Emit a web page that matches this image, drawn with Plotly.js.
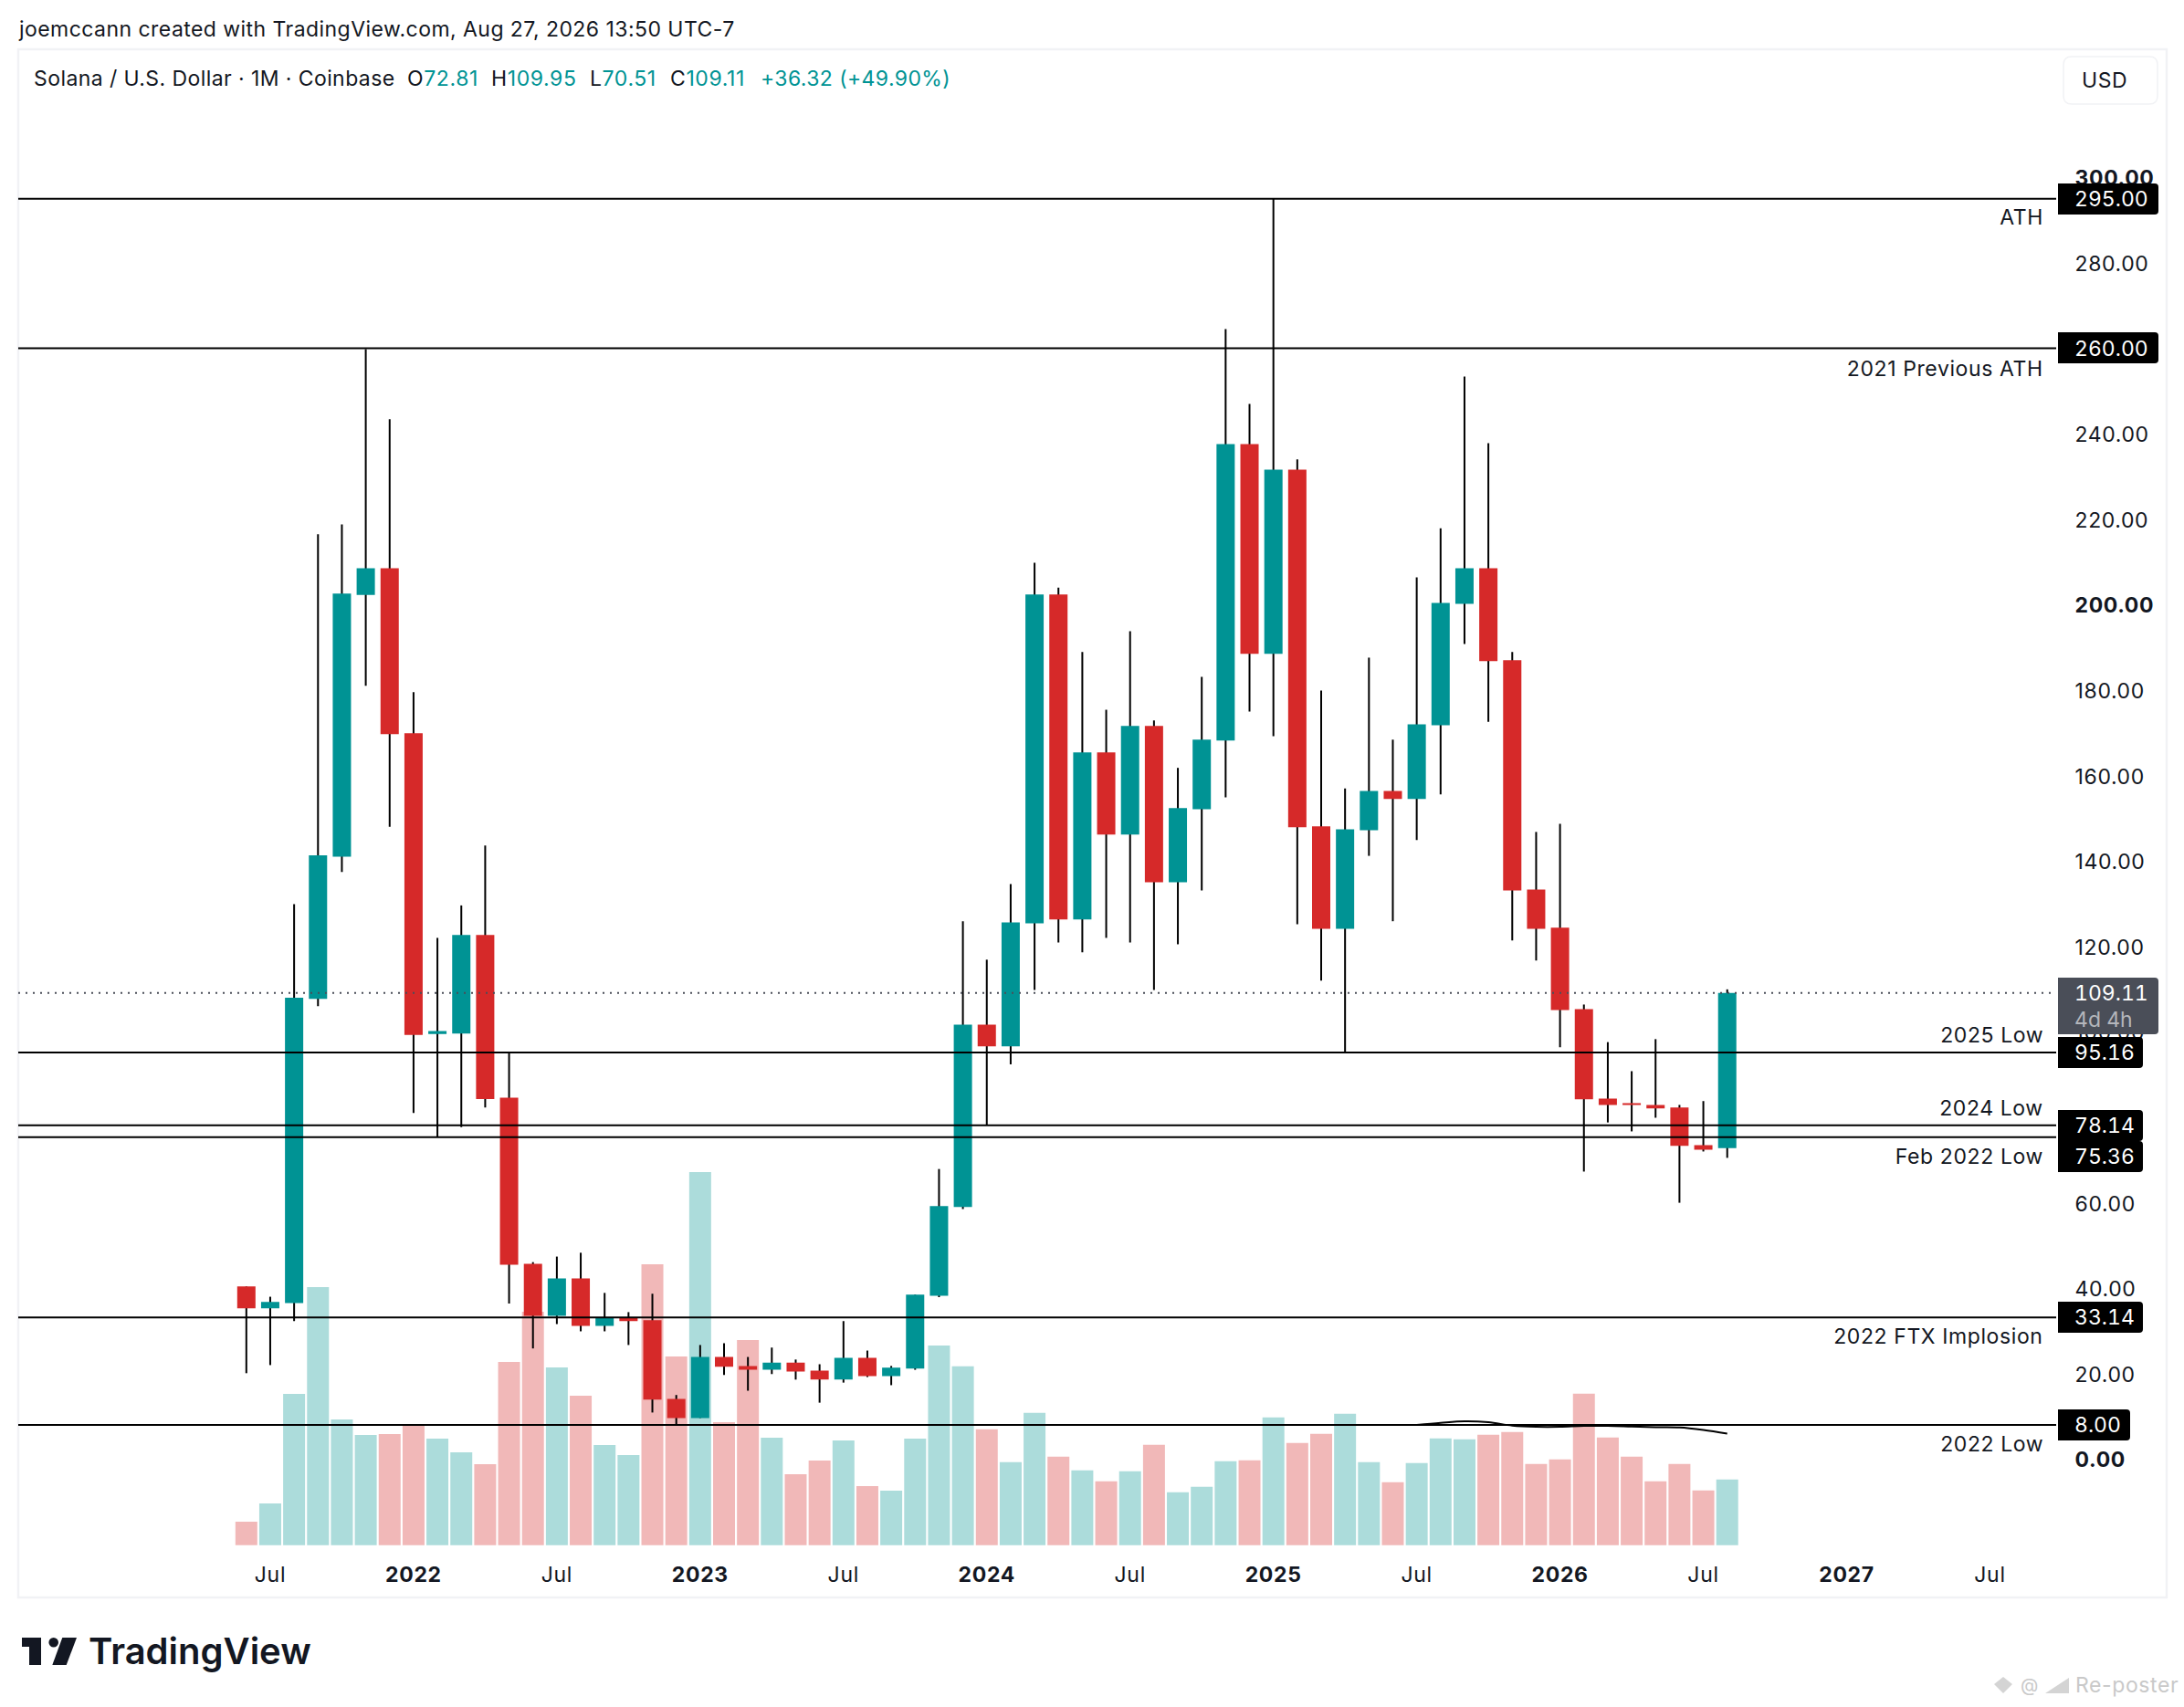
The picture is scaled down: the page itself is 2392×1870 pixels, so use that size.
<!DOCTYPE html>
<html>
<head>
<meta charset="utf-8">
<script src="https://cdn.plot.ly/plotly-3.0.1.min.js"></script>
<style>
   html, body { margin: 0; padding: 0; background: #ffffff; }
   #canvas text { letter-spacing: 0.6px; }
   #canvas .ytick text { font-variant-numeric: tabular-nums; font-feature-settings: "tnum"; letter-spacing: 0.3px; }
   #canvas .xtick text { letter-spacing: 0.7px; }
</style>
</head>
<body>
<div id="canvas" style="width:2392px;height:1870px;"></div>
<script>
const months = [
   "2021-06","2021-07","2021-08","2021-09","2021-10","2021-11","2021-12",
   "2022-01","2022-02","2022-03","2022-04","2022-05","2022-06","2022-07","2022-08","2022-09","2022-10","2022-11","2022-12",
   "2023-01","2023-02","2023-03","2023-04","2023-05","2023-06","2023-07","2023-08","2023-09","2023-10","2023-11","2023-12",
   "2024-01","2024-02","2024-03","2024-04","2024-05","2024-06","2024-07","2024-08","2024-09","2024-10","2024-11","2024-12",
   "2025-01","2025-02","2025-03","2025-04","2025-05","2025-06","2025-07","2025-08","2025-09","2025-10","2025-11","2025-12",
   "2026-01","2026-02","2026-03","2026-04","2026-05","2026-06","2026-07","2026-08"
];
const opens = [
   40.4,35.3,36.5,107.7,141,202.3,208.5,
   169.9,99.5,99.6,122.7,84.6,45.7,33.5,42.3,31.2,33.1,32.5,14.1,
   9.6,23.9,21.8,20.9,22.6,20.7,18.6,23.7,19.4,21.2,38.2,59,
   101.7,96.6,125.4,202.4,126.3,165.4,146.2,171.6,135,152.1,168.2,237.6,
   188.5,231.6,148.1,124.1,147.2,156.4,154.5,171.8,200.2,208.5,187,133.3,
   124.4,105.3,84.4,83.3,82.9,82.3,73.5,72.81
];
const highs = [
   40.4,38,129.9,216.5,218.8,259.8,243.4,
   179.5,122,129.6,143.6,95.3,46.1,47.4,48.3,38.9,34.4,38.7,15,
   26.7,27.1,23.9,26.1,23.3,22.2,32.3,25.4,21.8,38.5,67.9,125.9,
   116.9,134.6,209.8,204,188.9,175.4,193.8,172.9,161.8,183.1,264.5,247,
   295,234,179.9,157,187.6,168.4,206.4,217.9,253.4,237.8,188.9,146.8,
   148.7,106.4,97.6,90.8,98.3,82.9,83.8,109.95
];
const lows = [
   20.1,22,32.3,106,137.4,181,148,
   81,75.36,77.7,82.3,36.4,25.9,31.6,29.9,29.9,26.7,10.9,8,
   9.6,19.7,16,19.9,18.6,13.2,17.9,19.2,17.3,20.9,37.9,58.5,
   78.14,92.4,109.8,120.9,118.6,122,120.9,109.8,120.5,133.1,154.9,175,
   169.2,125.2,112,95.16,141.2,125.9,144.9,155.6,190.8,172.6,121.4,116.7,
   96.4,67.3,78.8,76.7,79.9,60,72,70.51
];
const closes = [
   35.3,36.8,108,141.3,202.6,208.5,169.7,
   99.3,100.2,122.7,84.3,45.5,33.5,42.3,31.2,33.1,32.3,13.9,9.6,
   23.9,21.6,20.9,22.6,20.5,18.6,23.7,19.4,21.4,38.5,59.2,101.7,
   96.6,125.6,202.4,126.3,165.4,146.2,171.6,135,152.4,168.4,237.6,188.5,
   231.6,147.9,124.1,147.4,156.4,154.5,172,200.4,208.5,186.8,133.1,124.1,
   105.1,84.2,82.9,82.9,82.1,73.3,72.4,109.11
];
// volume, no scale shown so the unit is arbitrary
const volumes = [
   25.7,45.7,165.7,282.7,137.7,120.7,121.7,
   132.7,116.7,101.7,88.7,200.7,255.7,194.7,163.7,109.7,98.7,307.7,206.7,
   408.7,134.7,224.7,117.7,77.7,92.7,114.7,64.7,59.7,116.7,218.7,196,
   127,91,145,97,82,70,81,110,58,64,92,93,
   140,112,122,144,91,69,90,117,116,121,124,89,
   94,166,118,97,70,89,60,72
];
// U = teal volume bar, d = pink, one letter per month, one string per row of months
const volumeSide = [
   "dUUUUUd",
   "dUUdddUdUUdd",
   "UddUddUdUUUU",
   "dUUdUdUdUUUd",
   "UddUUdUUUddd",
   "dddddddU"
].join("");
const volumeMaMonths = ["2025-07","2025-08","2025-09","2025-10","2025-11","2025-12","2026-01","2026-02","2026-03","2026-04","2026-05","2026-06","2026-07","2026-08"];
const volumeMa = [131.7,134,135.7,134.7,131,129.7,129.7,130.7,130.7,130,129.3,129,126.3,122.3];

const priceTicks = [0,20,40,60,80,100,120,140,160,180,200,220,240,260,280,300];
const boldPriceTicks = [0,200,300];
const timeTickMonths = ["2021-07","2022-01","2022-07","2023-01","2023-07","2024-01","2024-07","2025-01","2025-07","2026-01","2026-07","2027-01","2027-07"];
const timeTickLabels = ["Jul","2022","Jul","2023","Jul","2024","Jul","2025","Jul","2026","Jul","2027","Jul"];

const levels = [295, 260, 95.16, 78.14, 75.36, 33.14, 8];
const lastPrice = 109.11;

const TEAL = '#009394';
const RED = '#d62929';
const TEAL_VOL = '#acdcdb';
const PINK_VOL = '#f1b8b8';
const INK = '#131722';
const FAINT = '#d4d4d4';
const FONT = 'Inter, "Liberation Sans", sans-serif';

// pixel frame of the pane
const W = 2392, H = 1870;
const paneLeft = 20, paneRight = 2253, paneTop = 54, paneBottom = 1698;
const monthWidth = 26.16, firstMonthX = 269.8;
const priceZeroY = 1598.4, pxPerDollar = 4.68;
const volumeZeroY = 1692.7;

function px(x) { return (x - paneLeft) / (paneRight - paneLeft); }
function py(y) { return (paneBottom - y) / (paneBottom - paneTop); }
function monthPos(m) {
   const parts = m.split("-");
   return (parts[0] - 2021) * 12 + (parts[1] - 6);
}

const xs = months.map(monthPos);

const traces = [{
   // volume histogram, lowest layer
   type: 'bar',
   x: xs,
   y: volumes,
   yaxis: 'y',
   width: 24 / monthWidth,
   marker: { color: xs.map((_, i) => volumeSide[i] == 'U' ? TEAL_VOL : PINK_VOL), line: { width: 0 } },
}, {
   type: 'scatter',
   mode: 'lines',
   x: volumeMaMonths.map(monthPos),
   y: volumeMa,
   yaxis: 'y',
   line: { color: '#000000', width: 2, shape: 'spline' },
}, {
   // wicks are black and the bodies have no outline, so they are separate bars under the candles
   type: 'bar',
   x: xs,
   y: highs.map((h, i) => h - lows[i]),
   base: lows,
   yaxis: 'y2',
   width: 2 / monthWidth,
   marker: { color: '#000000', line: { width: 0 } },
}, {
   type: 'candlestick',
   x: xs,
   open: opens,
   high: highs,
   low: lows,
   close: closes,
   yaxis: 'y2',
   increasing: { fillcolor: TEAL, line: { color: TEAL, width: 0 } },
   decreasing: { fillcolor: RED, line: { color: RED, width: 0 } },
}];

// ---------------------- shapes ----------------------

function roundedBox(x0, x1, y0, y1, r, leftRound) {
   const a = leftRound ? r : 0;
   return `M${px(x0 + a)},${py(y0)} L${px(x1 - r)},${py(y0)} Q${px(x1)},${py(y0)} ${px(x1)},${py(y0 + r)} ` +
      `L${px(x1)},${py(y1 - r)} Q${px(x1)},${py(y1)} ${px(x1 - r)},${py(y1)} L${px(x0 + a)},${py(y1)} ` +
      `Q${px(x0)},${py(y1)} ${px(x0)},${py(y1 - a)} L${px(x0)},${py(y0 + a)} Q${px(x0)},${py(y0)} ${px(x0 + a)},${py(y0)} Z`;
}

function boxShape(x0, x1, y0, y1, fill) {
   return { type: 'path', xref: 'paper', yref: 'paper', layer: 'above', path: roundedBox(x0, x1, y0, y1, 4, false), fillcolor: fill, line: { width: 0 } };
}

function polygon(points, fill) {
   const d = points.map((p, i) => `${i == 0 ? 'M' : 'L'}${px(p[0])},${py(p[1])}`).join(' ') + ' Z';
   return { type: 'path', xref: 'paper', yref: 'paper', layer: 'above', path: d, fillcolor: fill, line: { width: 0 } };
}

const shapes = [];

levels.forEach((v) => {
   shapes.push({ type: 'line', xref: 'paper', yref: 'y2', x0: 0, x1: px(2252), y0: v, y1: v, layer: 'above', line: { color: '#000000', width: 2 } });
});
shapes.push({ type: 'line', xref: 'paper', yref: 'y2', x0: 0, x1: px(2250), y0: lastPrice, y1: lastPrice, layer: 'above', line: { color: '#4a4e58', width: 2, dash: '2px,6px' } });

// price scale badges
shapes.push(boxShape(2254, 2364, 201, 235, '#000000'));
shapes.push(boxShape(2254, 2364, 364, 398, '#000000'));
shapes.push(boxShape(2254, 2364, 1071, 1133, '#4a4e58'));
shapes.push(boxShape(2254, 2347, 1136, 1170, '#000000'));
shapes.push(boxShape(2254, 2347, 1216, 1250, '#000000'));
shapes.push(boxShape(2254, 2347, 1250, 1284, '#000000'));
shapes.push(boxShape(2254, 2347, 1426, 1460, '#000000'));
shapes.push(boxShape(2254, 2333, 1544, 1578, '#000000'));

// outer frame and USD button
shapes.push({ type: 'rect', xref: 'paper', yref: 'paper', layer: 'below', x0: px(20), x1: px(2373), y0: py(54), y1: py(1750), line: { color: '#f1f2f5', width: 2.5 } });
shapes.push({ type: 'path', xref: 'paper', yref: 'paper', layer: 'above', path: roundedBox(2260, 2363, 62, 114, 9, true), fillcolor: '#ffffff', line: { color: '#f1f2f5', width: 1.5 } });

// logo
shapes.push(polygon([[24, 1794], [45, 1794], [45, 1824], [32, 1824], [32, 1804], [24, 1804]], INK));
shapes.push({ type: 'circle', xref: 'paper', yref: 'paper', layer: 'above', fillcolor: INK, line: { width: 0 },
   x0: px(53.4), x1: px(64), y0: py(1804.6), y1: py(1794) });
shapes.push(polygon([[68.3, 1794], [84, 1794], [72.7, 1824], [57.3, 1824]], INK));

// repost stamp, bottom right
shapes.push(polygon([[2184, 1845], [2194, 1837], [2204, 1845], [2194, 1855]], FAINT));
shapes.push(polygon([[2240, 1855], [2266, 1838], [2266, 1855]], FAINT));

// ---------------------- text ----------------------

function label(text, x, y, opts) {
   const o = opts || {};
   return {
      text: text,
      xref: 'paper', yref: 'paper',
      x: px(x), y: py(y),
      xanchor: o.anchor || 'left', yanchor: 'middle',
      showarrow: false,
      borderpad: 0,
      align: o.anchor == 'right' ? 'right' : 'left',
      font: { family: FONT, size: o.size || 23, color: o.color || INK, weight: o.weight || 400 },
   };
}

// badge digits are fixed width like the price scale
function badge(text, y, color) {
   const span = `<span style="font-variant-numeric:tabular-nums;font-feature-settings:'tnum';letter-spacing:0px">${text}</span>`;
   return label(span, 2271, y, { color: color || '#ffffff' });
}

const annotations = [
   label(`<span style="letter-spacing:0.45px">joemccann created with TradingView.com, Aug 27, 2026 13:50 UTC-7</span>`, 19, 32, { size: 23 }),
   label(`<span style="letter-spacing:0.42px">Solana / U.S. Dollar · 1M · Coinbase</span>`, 36, 86),
   label(`O<span style="color:${TEAL}">72.81</span>`, 445, 86),
   label(`H<span style="color:${TEAL}">109.95</span>`, 537, 86),
   label(`L<span style="color:${TEAL}">70.51</span>`, 645, 86),
   label(`C<span style="color:${TEAL}">109.11</span>`, 733, 86),
   label(`<span style="letter-spacing:0.4px">+36.32 (+49.90%)</span>`, 832, 86, { color: TEAL }),
   label("USD", 2279, 88),

   label("ATH", 2239, 238.5, { anchor: 'right' }),
   label("2021 Previous ATH", 2239, 403.5, { anchor: 'right' }),
   label("2025 Low", 2239, 1134, { anchor: 'right' }),
   label("2024 Low", 2239, 1214, { anchor: 'right' }),
   label("Feb 2022 Low", 2239, 1267, { anchor: 'right' }),
   label("2022 FTX Implosion", 2239, 1464, { anchor: 'right' }),
   label("2022 Low", 2239, 1582, { anchor: 'right' }),

   badge("295.00", 218),
   badge("260.00", 382),
   badge("109.11", 1088),
   badge("4d 4h", 1117, '#b4b6bb'),
   badge("95.16", 1153),
   badge("78.14", 1233),
   badge("75.36", 1267),
   badge("33.14", 1443),
   badge("8.00", 1561),

   label(`<span style="letter-spacing:0px">TradingView</span>`, 96, 1809, { size: 40, weight: 600 }),
   label("@", 2212, 1846, { size: 20, color: '#c9c9c9' }),
   label("Re-poster", 2272, 1846, { size: 23, color: '#c9c9c9' }),
];

// ---------------------- layout ----------------------

function onLoad() {
   const priceBottom = (priceZeroY - paneBottom) / pxPerDollar;
   const priceTop = (priceZeroY - paneTop) / pxPerDollar;

   const layout = {
      width: W,
      height: H,
      autosize: false,
      margin: { l: paneLeft, r: W - paneRight, t: paneTop, b: H - paneBottom, pad: 0 },
      paper_bgcolor: '#ffffff',
      plot_bgcolor: '#ffffff',
      showlegend: false,
      hovermode: false,
      barmode: 'overlay',
      boxmode: 'overlay',
      boxgap: 1 - 20 / monthWidth,
      boxgroupgap: 0,
      font: { family: FONT, color: INK },
      xaxis: {
         range: [(paneLeft - firstMonthX) / monthWidth, (paneRight - firstMonthX) / monthWidth],
         tickmode: 'array',
         tickvals: timeTickMonths.map(monthPos),
         ticktext: timeTickLabels.map((t) => t == "Jul" ? t : `<b>${t}</b>`),
         ticks: 'outside',
         ticklen: 6,
         tickcolor: 'rgba(0,0,0,0)',
         tickfont: { family: FONT, size: 23, color: INK },
         showgrid: false,
         zeroline: false,
         showline: false,
         rangeslider: { visible: false },
      },
      yaxis: {
         range: [-(paneBottom - volumeZeroY), volumeZeroY - paneTop],
         visible: false,
         showgrid: false,
         zeroline: false,
      },
      yaxis2: {
         overlaying: 'y',
         side: 'right',
         range: [priceBottom, priceTop],
         tickmode: 'array',
         tickvals: priceTicks,
         ticktext: priceTicks.map((v) => boldPriceTicks.includes(v) ? `<b>${v.toFixed(2)}</b>` : v.toFixed(2)),
         ticks: 'outside',
         ticklen: 14,
         tickcolor: 'rgba(0,0,0,0)',
         tickfont: { family: FONT, size: 23, color: INK },
         ticklabelshift: 1,
         showgrid: false,
         zeroline: false,
         showline: false,
      },
      shapes: shapes,
      annotations: annotations,
   };
   Plotly.newPlot('canvas', traces, layout, { displayModeBar: false, staticPlot: true });
}

onLoad();
</script>
</body>
</html>
